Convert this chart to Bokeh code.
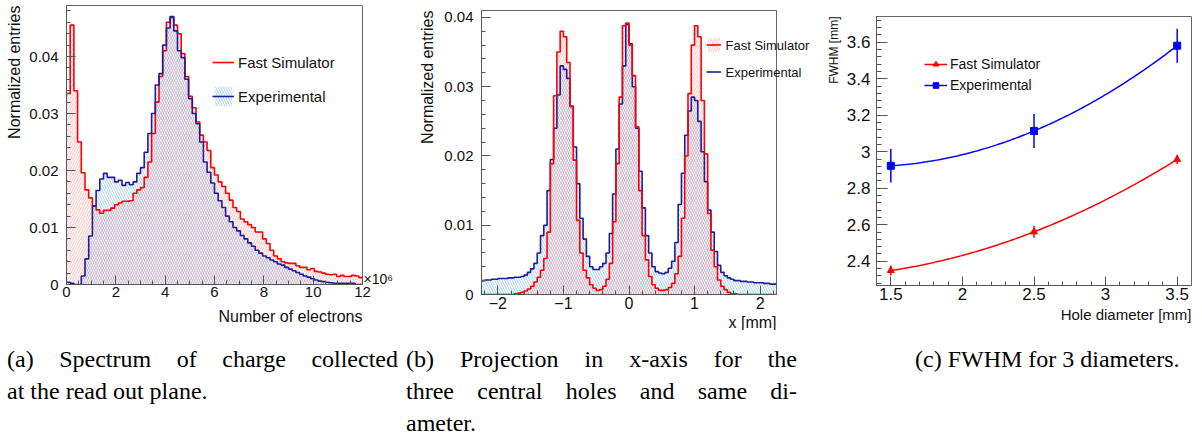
import numpy as np
from bokeh.plotting import figure
from bokeh.models import (Range1d, FixedTicker, Legend, LegendItem, Div, Title, LinearAxis)
from bokeh.layouts import row, column
from bokeh.embed import file_html
from bokeh.resources import INLINE

# ---------------- data: panel (a) charge spectrum ----------------
a_bin_start = 0.0
a_bin_width = 0.15
a_sim = [0.0335, 0.0455, 0.0340, 0.0250, 0.0196, 0.0166, 0.0152, 0.0138, 0.0131, 0.0125,
         0.0130, 0.0130, 0.0134, 0.0140, 0.0143, 0.0146, 0.0146, 0.0147, 0.0160, 0.0166,
         0.0170, 0.0188, 0.0215, 0.0265, 0.0320, 0.0365, 0.0410, 0.0460, 0.0468, 0.0455,
         0.0440, 0.0405, 0.0365, 0.0330, 0.0310, 0.0285, 0.0262, 0.0250, 0.0235, 0.0205,
         0.0192, 0.0180, 0.0172, 0.0160, 0.0148, 0.0135, 0.0128, 0.0115, 0.0110, 0.0105,
         0.0100, 0.0092, 0.0092, 0.0080, 0.0072, 0.0060, 0.0050, 0.0045, 0.0040, 0.0038,
         0.0037, 0.0037, 0.0033, 0.0030, 0.0030, 0.0026, 0.0028, 0.0023, 0.0022, 0.0020,
         0.0018, 0.0017, 0.0018, 0.0014, 0.0016, 0.0014, 0.0014, 0.0016, 0.0015, 0.0012]
a_exp = [0.0004, 0.0002, 0.0, 0.0, 0.0015, 0.0045, 0.0085, 0.0138, 0.0165, 0.0185,
         0.0195, 0.0188, 0.0188, 0.0180, 0.0183, 0.0174, 0.0179, 0.0175, 0.0180, 0.0195,
         0.0205, 0.0232, 0.0265, 0.0300, 0.0350, 0.0370, 0.0420, 0.0450, 0.0470, 0.0445,
         0.0410, 0.0398, 0.0360, 0.0326, 0.0300, 0.0282, 0.0250, 0.0215, 0.0197, 0.0178,
         0.0160, 0.0147, 0.0135, 0.0120, 0.0110, 0.0100, 0.0094, 0.0086, 0.0080, 0.0073,
         0.0067, 0.0060, 0.0055, 0.0050, 0.0047, 0.0043, 0.0040, 0.0036, 0.0034, 0.0030,
         0.0027, 0.0024, 0.0021, 0.0018, 0.0015, 0.0013, 0.0010, 0.0008, 0.0006, 0.0005,
         0.0004, 0.0003, 0.0002, 0.0002, 0.0002, 0.0002, 0.0002, 0.0002, 0.0, 0.0]
a_xticks = [0, 2, 4, 6, 8, 10, 12]
a_xtick_labels = ["0", "2", "4", "6", "8", "10", "12"]
a_yticks = [0.0, 0.01, 0.02, 0.03, 0.04]
a_ytick_labels = ["0", "0.01", "0.02", "0.03", "0.04"]
a_multiplier = "\u00d710\u2076"

# ---------------- data: panel (b) x projection ----------------
b_bin_start = -2.25
b_bin_width = 0.05
b_sim = [0, 0, 0, 0, 0, 0, 0, 0, 0, 0,
         0.0001, 0.0002, 0.0003, 0.0005, 0.0008, 0.0012, 0.0018, 0.0025, 0.0035, 0.0052,
         0.0090, 0.0189, 0.0287, 0.0350, 0.0380, 0.0372, 0.0335, 0.0271, 0.0194, 0.0107,
         0.0060, 0.0035, 0.0024, 0.0014, 0.0009, 0.0006, 0.0007, 0.0012, 0.0022, 0.0045,
         0.0105, 0.0189, 0.0285, 0.0388, 0.0392, 0.0360, 0.0316, 0.0242, 0.0150, 0.0085,
         0.0050, 0.0026, 0.0014, 0.0009, 0.0006, 0.0006, 0.0007, 0.0010, 0.0016, 0.0030,
         0.0055, 0.0110, 0.0200, 0.0290, 0.0360, 0.0388, 0.0372, 0.0280, 0.0203, 0.0117,
         0.0064, 0.0040, 0.0021, 0.0012, 0.0007, 0.0003, 0.0001, 0.0001, 0, 0,
         0, 0, 0, 0, 0, 0, 0, 0, 0, 0]
b_exp = [0.0020, 0.0021, 0.0021, 0.0022, 0.0022, 0.0023, 0.0023, 0.0023, 0.0024, 0.0024,
         0.0025, 0.0025, 0.0026, 0.0028, 0.0032, 0.0037, 0.0045, 0.0060, 0.0085, 0.0100,
         0.0150, 0.0195, 0.0240, 0.0288, 0.0330, 0.0325, 0.0312, 0.0272, 0.0213, 0.0160,
         0.0110, 0.0080, 0.0055, 0.0040, 0.0036, 0.0036, 0.0040, 0.0045, 0.0060, 0.0088,
         0.0145, 0.0210, 0.0275, 0.0330, 0.0390, 0.0362, 0.0300, 0.0240, 0.0178, 0.0125,
         0.0085, 0.0060, 0.0040, 0.0033, 0.0031, 0.0030, 0.0032, 0.0038, 0.0048, 0.0075,
         0.0130, 0.0175, 0.0230, 0.0265, 0.0285, 0.0280, 0.0250, 0.0206, 0.0163, 0.0122,
         0.0090, 0.0062, 0.0042, 0.0032, 0.0027, 0.0024, 0.0022, 0.0020, 0.0020, 0.0019,
         0.0019, 0.0018, 0.0018, 0.0017, 0.0017, 0.0017, 0.0016, 0.0016, 0.0015, 0.0015]
b_xticks = [-2, -1, 0, 1, 2]
b_xtick_labels = ["\u22122", "\u22121", "0", "1", "2"]
b_yticks = [0.0, 0.01, 0.02, 0.03, 0.04]
b_ytick_labels = ["0", "0.01", "0.02", "0.03", "0.04"]
b_legend_labels = ["Fast Simulator", "Experimental"]

# ---------------- data: panel (c) FWHM ----------------
c_diam = [1.5, 2.5, 3.5]
c_sim = [2.349, 2.561, 2.958]
c_sim_err = [0.027, 0.033, 0.025]
c_exp = [2.923, 3.114, 3.581]
c_exp_err = [0.092, 0.093, 0.093]
c_xticks = [1.5, 2.0, 2.5, 3.0, 3.5]
c_xtick_labels = ["1.5", "2", "2.5", "3", "3.5"]
c_yticks = [2.4, 2.6, 2.8, 3.0, 3.2, 3.4, 3.6]
c_ytick_labels = ["2.4", "2.6", "2.8", "3", "3.2", "3.4", "3.6"]

captions_a = ["(a) Spectrum of charge collected", "at the read out plane."]
captions_b = ["(b) Projection in x-axis for the", "three central holes and same di-", "ameter."]
captions_c = ["(c) FWHM for 3 diameters."]

SANS = "Liberation Sans"
SERIF = "Liberation Serif"
RED = "#ff0000"
HBLUE = "#1c1c9c"
TXT = "#111111"
AX = "#555555"
FIG_H = 330


def make_fig(w, bl, br, bt, bb, xr, yr):
    p = figure(width=w, height=FIG_H, min_border_left=bl, min_border_right=br,
               min_border_top=bt, min_border_bottom=bb, x_range=Range1d(*xr),
               y_range=Range1d(*yr), output_backend="svg", toolbar_location=None, title=None)
    p.xgrid.visible = False
    p.ygrid.visible = False
    p.outline_line_color = "#666666"
    p.outline_line_width = 1
    p.background_fill_color = "white"
    p.border_fill_color = "white"
    for ax in (p.xaxis[0], p.yaxis[0]):
        ax.major_tick_in = 9
        ax.major_tick_out = 0
        ax.minor_tick_in = 4
        ax.minor_tick_out = 0
        ax.axis_label_standoff = 0
        ax.axis_line_color = AX
        ax.major_tick_line_color = AX
        ax.minor_tick_line_color = AX
        ax.major_label_text_font = SANS
        ax.major_label_text_color = TXT
    return p


def set_ticks(ax, ticks, labels, minor, size, standoff):
    ax.ticker = FixedTicker(ticks=ticks, minor_ticks=list(minor))
    ax.major_label_overrides = {t: l for t, l in zip(ticks, labels)}
    ax.major_label_text_font_size = size
    ax.major_label_standoff = standoff


def text_axis(p, ticks, labels, size, standoff):
    # an axis without line or ticks, used to place texts at the right edge of the frame
    ax = LinearAxis(ticker=FixedTicker(ticks=ticks, minor_ticks=[]),
                    major_label_overrides={t: l for t, l in zip(ticks, labels)},
                    axis_line_color=None, major_tick_line_color=None,
                    minor_tick_line_color=None, major_tick_in=0, major_tick_out=0,
                    axis_label_standoff=0,
                    major_label_standoff=standoff, major_label_text_font=SANS,
                    major_label_text_font_size=size, major_label_text_color=TXT)
    p.add_layout(ax, "right")


def hist(p, start, width, vals, color, hatch_color, pattern, halpha):
    vals = np.asarray(vals, dtype=float)
    edges = start + width * np.arange(len(vals) + 1)
    x = np.repeat(edges, 2)[1:-1]
    y = np.repeat(vals, 2)
    px = np.concatenate([[edges[0]], x, [edges[-1]]])
    py = np.concatenate([[0.0], y, [0.0]])
    fill = p.patch(px, py, fill_alpha=0, line_alpha=0, hatch_pattern=pattern,
                   hatch_color=hatch_color, hatch_alpha=halpha, hatch_scale=5, hatch_weight=1)
    return fill, (x, y, color)


def outline(p, spec):
    x, y, color = spec
    return p.line(x, y, line_color=color, line_width=1.6)


def axis_title(p, text, place, size, standoff=0, offset=0):
    p.add_layout(Title(text=text, align="right", text_font=SANS, text_font_size=size,
                       text_font_style="normal", text_color=TXT, standoff=standoff,
                       offset=offset), place)


def legend(p, items, loc, gw, gh, spacing, size, standoff):
    leg = Legend(items=items, location=loc, padding=0, margin=0, spacing=spacing,
                 glyph_width=gw, glyph_height=gh, label_height=gh, label_standoff=standoff,
                 border_line_color=None, background_fill_alpha=0,
                 label_text_font=SANS, label_text_font_size=size, label_text_color=TXT)
    p.add_layout(leg)


# ---------------- panel (a) ----------------
a_xr = (0.0, 12.0)
a_yr = (0.0, 0.04895)
pa = make_fig(400, 64, 38, 5, 46, a_xr, a_yr)
set_ticks(pa.xaxis[0], a_xticks, a_xtick_labels, np.arange(0, 12.01, 0.5), "15px", 2)
set_ticks(pa.yaxis[0], a_yticks, a_ytick_labels, np.arange(0, 0.049, 0.002), "15px", 8)
fa_sim, sa_sim = hist(pa, a_bin_start, a_bin_width, a_sim, RED, "#ff3030", "/", 0.32)
fa_exp, sa_exp = hist(pa, a_bin_start, a_bin_width, a_exp, HBLUE, "#3d8fe0", "\\", 0.42)
la_sim = outline(pa, sa_sim)
la_exp = outline(pa, sa_exp)
axis_title(pa, "Number of electrons", "below", "16px", standoff=12)
axis_title(pa, "Normalized entries", "left", "16px", standoff=7)
text_axis(pa, [0.001], [a_multiplier], "14px", 1)
legend(pa, [LegendItem(label="Fast Simulator", renderers=[la_sim]),
            LegendItem(label="Experimental", renderers=[fa_exp, la_exp])],
       (146, 176), 22, 24, 10, "15px", 4)

# ---------------- panel (b) ----------------
b_xr = (-2.25, 2.25)
b_yr = (0.0, 0.041)
pb = make_fig(412, 81, 36, 10, 35, b_xr, b_yr)
set_ticks(pb.xaxis[0], b_xticks, b_xtick_labels, np.arange(-2.2, 2.21, 0.2), "16px", 2)
set_ticks(pb.yaxis[0], b_yticks, b_ytick_labels, np.arange(0, 0.041, 0.002), "15px", 8)
fb_exp, sb_exp = hist(pb, b_bin_start, b_bin_width, b_exp, HBLUE, "#3d8fe0", "\\", 0.42)
fb_sim, sb_sim = hist(pb, b_bin_start, b_bin_width, b_sim, RED, "#ff3030", "/", 0.32)
lb_exp = outline(pb, sb_exp)
lb_sim = outline(pb, sb_sim)
axis_title(pb, "x [mm]", "below", "16px", standoff=0)
axis_title(pb, "Normalized entries", "left", "16px", standoff=12)
# legend glyphs sit inside the frame; their labels run past the frame edge, as in the reference
legend(pb, [LegendItem(label=" ", renderers=[fb_sim, lb_sim]),
            LegendItem(label=" ", renderers=[lb_exp])],
       (225, 214), 15, 17, 10, "13px", 4)
text_axis(pb, [0.0359, 0.0320], b_legend_labels, "13px", -51)

# ---------------- panel (c) ----------------
c_xr = (1.4, 3.6)
c_yr = (2.267, 3.741)
pc = make_fig(390, 64, 11, 16, 45, c_xr, c_yr)
set_ticks(pc.xaxis[0], c_xticks, c_xtick_labels, np.arange(1.4, 3.61, 0.1), "17px", 2)
set_ticks(pc.yaxis[0], c_yticks, c_ytick_labels, np.arange(2.28, 3.741, 0.04), "17px", 6)
pc.yaxis[0].major_tick_in = 11
pc.yaxis[0].minor_tick_in = 5
xs = np.linspace(c_diam[0], c_diam[-1], 120)
curves = {}
for vals, errs, color, marker, key in ((c_sim, c_sim_err, RED, "triangle", "sim"),
                                       (c_exp, c_exp_err, "#0000ff", "square", "exp")):
    coef = np.polyfit(c_diam, vals, 2)
    line = pc.line(xs, np.polyval(coef, xs), line_color=color, line_width=1.5)
    lo = [v - e for v, e in zip(vals, errs)]
    hi = [v + e for v, e in zip(vals, errs)]
    pc.segment(x0=c_diam, y0=lo, x1=c_diam, y1=hi, line_color=color, line_width=1.5)
    pts = pc.scatter(c_diam, vals, marker=marker, size=7, fill_color=color, line_color=color)
    curves[key] = (line, pts)
axis_title(pc, "Hole diameter [mm]", "below", "15px", standoff=2)
axis_title(pc, "FWHM [mm]", "left", "12px", standoff=6)
legend(pc, [LegendItem(label="Fast Simulator", renderers=list(curves["sim"])),
            LegendItem(label="Experimental", renderers=list(curves["exp"]))],
       (48, 192), 23, 14, 5, "14px", 3)


# ---------------- captions ----------------
def caption(lines, width, inner_left, inner_width):
    parts = []
    for i, ln in enumerate(lines):
        last = (i == len(lines) - 1)
        al = "text-align:left;" if last else "text-align:justify;text-align-last:justify;"
        parts.append('<div style="%s">%s</div>' % (al, ln))
    html = ('<div style="font-family:\'%s\';font-size:24px;line-height:32px;color:#000;'
            'padding-top:13px;margin-left:%dpx;width:%dpx;">%s</div>'
            % (SERIF, inner_left, inner_width, "".join(parts)))
    return Div(text=html, width=width, height=109, margin=0, styles={"overflow": "hidden"})


da = caption(captions_a, 400, 7, 391)
db = caption(captions_b, 412, 6, 391)
dc = caption(captions_c, 390, 103, 285)

layout = row(column(pa, da), column(pb, db), column(pc, dc))
open("out.html", "w").write(file_html(layout, INLINE))
